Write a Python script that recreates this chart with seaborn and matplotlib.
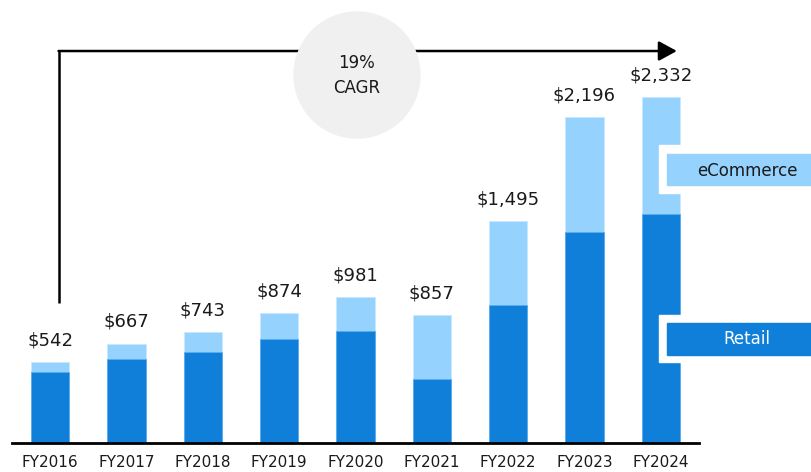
import matplotlib
matplotlib.use("Agg")
import matplotlib.pyplot as plt
from matplotlib.patches import Rectangle, Circle
import seaborn as sns

sns.set_style("white")
plt.rcParams["font.family"] = ["DejaVu Sans"]

# values ($M)
years = ["FY2016", "FY2017", "FY2018", "FY2019", "FY2020",
         "FY2021", "FY2022", "FY2023", "FY2024"]
totals = [542, 667, 743, 874, 981, 857, 1495, 2196, 2332]
retail = [475, 565, 612, 698, 750, 428, 927, 1421, 1543]
labels = ["$542", "$667", "$743", "$874", "$981",
          "$857", "$1,495", "$2,196", "$2,332"]

dark = "#0f7fd9"
light = "#96d2fe"

fig = plt.figure(figsize=(8.11, 4.72), dpi=100)
ax = fig.add_axes([12 / 811, 29.5 / 472, 687 / 811, 442.5 / 472])

# stacked bars: total (light, eCommerce on top) then retail over it
sns.barplot(x=years, y=totals, color=light, width=0.5, saturation=1, ax=ax,
            edgecolor="#c8e8ff", linewidth=0.6)
sns.barplot(x=years, y=retail, color=dark, width=0.5, saturation=1, ax=ax,
            edgecolor="#5aaef0", linewidth=0.6)

ax.set_xlim(-0.5, 8.5)
ax.set_ylim(0, 2984)
ax.set_yticks([])
ax.set_ylabel("")
for s in ["left", "top", "right"]:
    ax.spines[s].set_visible(False)
ax.spines["bottom"].set_color("black")
ax.spines["bottom"].set_linewidth(2)
ax.tick_params(axis="x", length=0, pad=9, labelsize=11, labelcolor="#1a1a1a")

# total labels above bars
for i, (t, lab) in enumerate(zip(totals, labels)):
    ax.annotate(lab, (i, t), xytext=(0, 12), textcoords="offset points",
                ha="center", va="baseline", fontsize=13, color="#1a1a1a")

# CAGR arrow
ax.plot([0.11, 0.11], [941, 2640], color="black", lw=1.8, zorder=3,
        solid_capstyle="butt", clip_on=False)
ax.annotate("", xy=(8.21, 2640), xytext=(0.11, 2640),
            arrowprops=dict(arrowstyle="-|>,head_length=0.55,head_width=0.3",
                            lw=1.8, color="black", mutation_scale=20,
                            shrinkA=0, shrinkB=0),
            zorder=3, annotation_clip=False)
ax.add_patch(Circle((3.57, 3.97), 0.63, transform=fig.dpi_scale_trans,
                    color="#f0f0f0", zorder=4, clip_on=False))
ax.text(3.57, 4.09, "19%", transform=fig.dpi_scale_trans, ha="center",
        va="center", fontsize=12, color="#1a1a1a", zorder=5)
ax.text(3.57, 3.84, "CAGR", transform=fig.dpi_scale_trans, ha="center",
        va="center", fontsize=12, color="#1a1a1a", zorder=5)

# segment callouts on the right
ax.add_patch(Rectangle((7.975, 1682), 3, 324, color="white", zorder=5, clip_on=False))
ax.add_patch(Rectangle((8.08, 1736), 3, 209, color=light, zorder=6, clip_on=False))
ax.text(9.13, 1833, "eCommerce", ha="center", va="center", fontsize=12,
        color="#1a1a1a", zorder=7)
ax.add_patch(Rectangle((7.975, 543), 3, 317, color="white", zorder=5, clip_on=False))
ax.add_patch(Rectangle((8.08, 590), 3, 216, color=dark, zorder=6, clip_on=False))
ax.text(9.13, 698, "Retail", ha="center", va="center", fontsize=12,
        color="white", zorder=7)

fig.savefig("out.png", dpi=100)
